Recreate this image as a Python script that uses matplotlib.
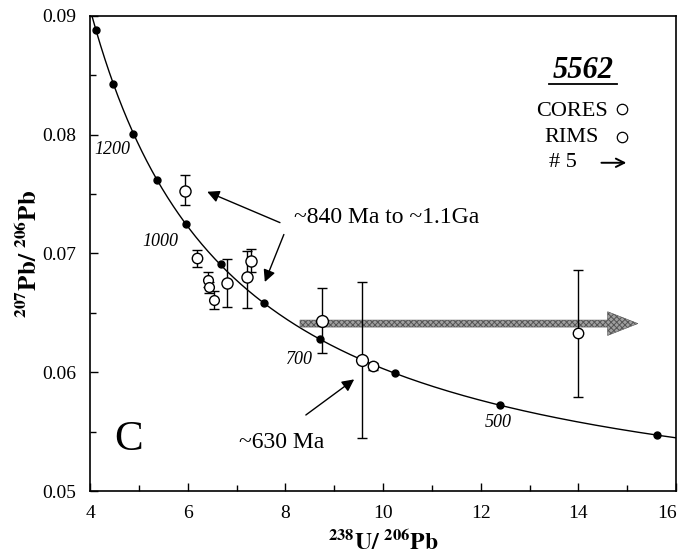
import numpy as np
import matplotlib
matplotlib.use("Agg")
import matplotlib.pyplot as plt
import matplotlib.transforms as mtransforms
from matplotlib.patches import FancyArrow

plt.rcParams['font.family'] = ['Liberation Serif', 'DejaVu Serif']
plt.rcParams['mathtext.fontset'] = 'stix'
plt.rcParams['hatch.linewidth'] = 0.7

# Concordia age marks (Ma) and their positions
conc_ages = [1400, 1300, 1200, 1100, 1000, 900, 800, 700, 600, 500, 400]
conc_x = [4.12, 4.48, 4.89, 5.38, 5.96, 6.68, 7.57, 8.72, 10.25, 12.40, 15.62]
conc_y = [0.0888, 0.0843, 0.0801, 0.0762, 0.0725, 0.0691, 0.0658, 0.0628, 0.0599, 0.0572, 0.0547]
age_labels = ['1200', '1000', '700', '500']
age_label_x = [4.45, 5.45, 8.29, 12.35]
age_label_y = [0.0788, 0.0710, 0.0611, 0.0558]

# Decay constants (1/yr) used for the concordia reference curve
lam238 = 1.55125e-10
lam235 = 9.8485e-10
u_ratio = 137.88

# Zircon analyses: 238U/206Pb, 207Pb/206Pb, error bar low / high
pt_x = [5.95, 6.19, 6.41, 6.43, 6.54, 6.81, 7.21, 7.29, 8.75, 9.56, 9.80, 14.0]
pt_y = [0.0753, 0.0696, 0.0678, 0.0672, 0.0661, 0.0675, 0.0680, 0.0694, 0.0643, 0.0610, 0.0605, 0.0633]
pt_lo = [0.0741, 0.0689, 0.0672, 0.0667, 0.0653, 0.0655, 0.0654, 0.0684, 0.0616, 0.0545, 0.0602, 0.0579]
pt_hi = [0.0766, 0.0703, 0.0684, 0.0676, 0.0668, 0.0695, 0.0702, 0.0704, 0.0671, 0.0676, 0.0608, 0.0686]
pt_size = [8, 7.5, 7, 7, 7, 8, 8, 8, 8.5, 8.5, 7.5, 7.5]

# Pb-loss arrow (#5)
arrow_x_start = 8.3
arrow_x_end = 15.22
arrow_y = 0.0641

xticks = [4, 6, 8, 10, 12, 14, 16]
yticks = [0.05, 0.06, 0.07, 0.08, 0.09]
ytick_labels = ['0.05', '0.06', '0.07', '0.08', '0.09']

fig = plt.figure(figsize=(6.82, 5.59), dpi=100)
ax = fig.add_axes([90/682, 1 - 491/559, 586/682, 475/559])
ax.set_xlim(4, 16)
ax.set_ylim(0.05, 0.09)

# concordia curve
t = np.linspace(300e6, 1500e6, 600)
cx = 1.0 / (np.exp(lam238 * t) - 1)
cy = (np.exp(lam235 * t) - 1) / (np.exp(lam238 * t) - 1) / u_ratio
ax.plot(cx, cy, color='black', lw=1.0, zorder=2)
ax.plot(conc_x, conc_y, 'o', color='black', ms=5, zorder=3)
for lab, lx, ly in zip(age_labels, age_label_x, age_label_y):
    ax.text(lx, ly, lab, style='italic', fontsize=13, ha='center', va='center')

# hatched arrow
arr = FancyArrow(arrow_x_start, arrow_y, arrow_x_end - arrow_x_start, 0,
                 width=0.00059, head_width=0.0020, head_length=0.62,
                 length_includes_head=True, facecolor='#a0a0a0',
                 edgecolor='#555555', hatch='xxxxxx', lw=0.4, zorder=2)
ax.add_patch(arr)

# data points with error bars
for x, y, lo, hi, s in zip(pt_x, pt_y, pt_lo, pt_hi, pt_size):
    ax.errorbar([x], [y], yerr=[[y - lo], [hi - y]], fmt='o', ms=s,
                mfc='white', mec='black', mew=1.0, ecolor='black',
                elinewidth=1.0, capsize=3.5, capthick=1.0, zorder=4)

# annotations
ax.text(8.18, 0.0730, '~840 Ma to ~1.1Ga', fontsize=17, ha='left', va='center')
ax.annotate('', xy=(6.40, 0.0752), xytext=(7.89, 0.0726),
            arrowprops=dict(arrowstyle='-|>', color='black', lw=1.0,
                            mutation_scale=18, shrinkA=0, shrinkB=0))
ax.annotate('', xy=(7.58, 0.0676), xytext=(7.97, 0.0716),
            arrowprops=dict(arrowstyle='-|>', color='black', lw=1.0,
                            mutation_scale=18, shrinkA=0, shrinkB=0))
ax.text(7.93, 0.0541, '~630 Ma', fontsize=17, ha='center', va='center')
ax.annotate('', xy=(9.41, 0.0594), xytext=(8.42, 0.0564),
            arrowprops=dict(arrowstyle='-|>', color='black', lw=1.0,
                            mutation_scale=18, shrinkA=0, shrinkB=0))
ax.text(4.78, 0.0543, 'C', fontsize=31, ha='center', va='center')

# legend block
ax.text(0.841, 0.886, '5562', transform=ax.transAxes, fontsize=22,
        fontweight='bold', style='italic', ha='center', va='center')
ax.plot([0.783, 0.899], [0.857, 0.857], transform=ax.transAxes, color='black', lw=1.3)
ax.text(0.884, 0.798, 'CORES', transform=ax.transAxes, fontsize=16, ha='right', va='center')
ax.plot([0.908], [0.804], 'o', transform=ax.transAxes, ms=7.5, mfc='white', mec='black', mew=0.9)
ax.text(0.869, 0.745, 'RIMS', transform=ax.transAxes, fontsize=16, ha='right', va='center')
ax.plot([0.908], [0.745], 'o', transform=ax.transAxes, ms=7.5, mfc='white', mec='black', mew=0.9)
ax.text(0.831, 0.691, '# 5', transform=ax.transAxes, fontsize=16, ha='right', va='center')
ax.annotate('', xy=(0.920, 0.691), xytext=(0.868, 0.691), xycoords='axes fraction',
            arrowprops=dict(arrowstyle='->', color='black', lw=1.4, mutation_scale=15))

# axes styling
ax.set_xticks(xticks)
ax.set_xticks(range(5, 16, 2), minor=True)
ax.set_yticks(yticks)
ax.set_yticklabels(ytick_labels)
ax.set_yticks([0.055, 0.065, 0.075, 0.085], minor=True)
ax.tick_params(which='both', direction='in', labelsize=14, top=False, right=False)
ax.tick_params(which='major', length=6, width=1)
ax.tick_params(which='minor', length=4, width=1)
ax.tick_params(axis='x', pad=10)
ax.tick_params(axis='y', pad=10)
for s in ax.spines.values():
    s.set_linewidth(1.2)

# the last x tick label sits slightly left of its tick, as in the original
last_lab = ax.get_xticklabels()[-1]
last_lab.set_transform(last_lab.get_transform() +
                       mtransforms.ScaledTranslation(-9/100, 0, fig.dpi_scale_trans))

ax.set_xlabel(r'$\mathbf{^{238}U/\ ^{206}Pb}$', fontsize=17, labelpad=6)
ax.set_ylabel(r'$\mathbf{^{207}Pb/\ ^{206}Pb}$', fontsize=18, labelpad=0)

fig.savefig('out.png', dpi=100)
